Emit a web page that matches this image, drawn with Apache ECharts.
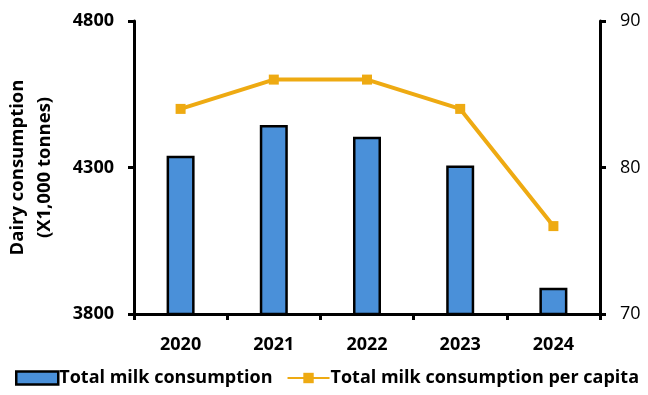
<!DOCTYPE html>
<html>
<head>
<meta charset="utf-8">
<script src="https://cdn.jsdelivr.net/npm/echarts@6/dist/echarts.min.js"></script>
<style>
  html, body { margin: 0; padding: 0; background: #fff; }
  #chart { width: 648px; height: 395px; }
</style>
</head>
<body>
<div id="chart"></div>
<script>
var years = ['2020', '2021', '2022', '2023', '2024'];
var totalMilk = [4340, 4445, 4405, 4307, 3890];
var perCapita = [84, 86, 86, 84, 76];

var myChart = echarts.init(document.getElementById('chart'));

var font = '"Open Sans", "Noto Sans", sans-serif';

var option = {
    animation: false,
    grid: { left: 134, right: 48, top: 21, bottom: 81, outerBoundsMode: 'none', containLabel: false },
    legend: {
        bottom: 3,
        left: 10,
        itemGap: 14,
        textStyle: { fontFamily: font, fontSize: 18, fontWeight: 'bold', color: '#000', padding: [0, 0, 0, -4] },
        data: [
            { name: 'Total milk consumption', icon: 'rect', itemStyle: { color: '#4A90D9', borderColor: '#000', borderWidth: 2.5 } },
            { name: 'Total milk consumption per capita' }
        ],
        itemWidth: 42,
        itemHeight: 13
    },
    xAxis: {
        type: 'category',
        data: years,
        axisLine: { lineStyle: { color: '#000', width: 3 } },
        axisTick: { show: true, length: 6, lineStyle: { width: 3 } },
        axisLabel: { fontFamily: font, fontSize: 18, fontWeight: 'bold', color: '#000', margin: 22 }
    },
    yAxis: [
        {
            type: 'value',
            min: 3800, max: 4800, interval: 500,
            name: 'Dairy consumption\n(X1,000 tonnes)',
            nameLocation: 'middle',
            nameGap: 76,
            nameTextStyle: { fontFamily: font, fontSize: 18.5, fontWeight: 'bold', color: '#000', lineHeight: 27 },
            axisLine: { show: true, lineStyle: { color: '#000', width: 3 } },
            axisTick: { show: true, length: 6, lineStyle: { width: 3 } },
            axisLabel: {
                fontFamily: font, fontSize: 18, fontWeight: 'bold', color: '#000', margin: 20,
                formatter: function (v) { return String(v); }
            },
            splitLine: { show: false }
        },
        {
            type: 'value',
            min: 70, max: 90, interval: 10,
            position: 'right',
            axisLine: { show: true, lineStyle: { color: '#000', width: 3 } },
            axisTick: { show: true, length: 6, lineStyle: { width: 3 } },
            axisLabel: { fontFamily: font, fontSize: 18, color: '#000', margin: 20 },
            splitLine: { show: false }
        }
    ],
    series: [
        {
            name: 'Total milk consumption',
            type: 'bar',
            data: totalMilk,
            barWidth: 28,
            itemStyle: { color: '#4A90D9', borderColor: '#000', borderWidth: 2.5 }
        },
        {
            name: 'Total milk consumption per capita',
            type: 'line',
            yAxisIndex: 1,
            data: perCapita,
            symbol: 'rect',
            symbolSize: 10,
            lineStyle: { color: '#EEAA12', width: 4 },
            itemStyle: { color: '#EEAA12' }
        }
    ]
};

myChart.setOption(option);
</script>
</body>
</html>
